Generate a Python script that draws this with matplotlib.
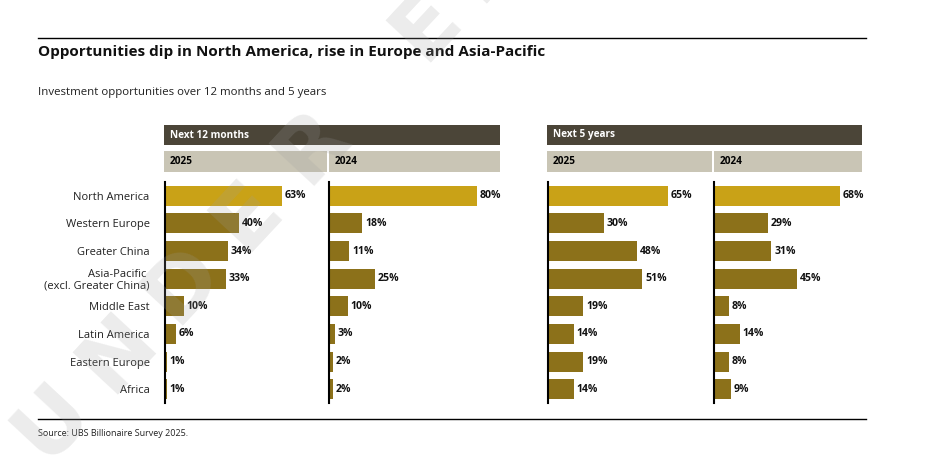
import matplotlib
matplotlib.use("Agg")
import matplotlib.pyplot as plt
from matplotlib.patches import Rectangle
from matplotlib.lines import Line2D

plt.rcParams['font.family'] = ['Open Sans', 'DejaVu Sans']

# ---------------- data ----------------
regions = ["North America", "Western Europe", "Greater China",
           "Asia-Pacific \n(excl. Greater China)", "Middle East",
           "Latin America", "Eastern Europe", "Africa"]
m12_2025 = [63, 40, 34, 33, 10, 6, 1, 1]
m12_2024 = [80, 18, 11, 25, 10, 3, 2, 2]
y5_2025 = [65, 30, 48, 51, 19, 14, 19, 14]
y5_2024 = [68, 29, 31, 45, 8, 14, 8, 9]
group_labels = ["Next 12 months", "Next 5 years"]
year_labels = ["2025", "2024"]
title = "Opportunities dip in North America, rise in Europe and Asia-Pacific"
subtitle = "Investment opportunities over 12 months and 5 years"
source = "Source: UBS Billionaire Survey 2025."

GOLD = "#C9A217"
DARK = "#8C711A"
HEAD = "#4B4538"
YEAR = "#C9C5B5"

W, H = 927, 473
fig = plt.figure(figsize=(W / 100, H / 100), dpi=100)


def fx(x):
    return x / W


def fy(y):
    return 1 - y / H


def rect(x0, y0, x1, y1, color):
    fig.patches.append(Rectangle((fx(x0), fy(y1)), fx(x1) - fx(x0), fy(y0) - fy(y1),
                                 transform=fig.transFigure, color=color, lw=0))


# rules
for yy in (38, 419):
    fig.add_artist(Line2D([fx(38), fx(866)], [fy(yy), fy(yy)], color="black", lw=1.0,
                          transform=fig.transFigure))

fig.text(fx(38), fy(52), title, fontsize=11, fontweight="bold", va="center", ha="left",
         color="#111111")
fig.text(fx(38), fy(93), subtitle, fontsize=8.25, va="center", ha="left", color="#222222")
fig.text(fx(38), fy(433), source, fontsize=6.5, va="center", ha="left", color="#222222")

# headers
groups = [(164, 500, [(164, 327), (329, 500)]), (547, 862, [(547, 712), (714, 862)])]
for (gx0, gx1, subs), glab in zip(groups, group_labels):
    rect(gx0, 125, gx1, 145, HEAD)
    fig.text(fx(gx0 + 6), fy(135), glab, fontsize=7.2, fontweight="bold", color="white",
             va="center", ha="left")
    for (sx0, sx1), ylab in zip(subs, year_labels):
        rect(sx0, 151, sx1, 172, YEAR)
        fig.text(fx(sx0 + 6), fy(162), ylab, fontsize=7.2, fontweight="bold", color="black",
                 va="center", ha="left")

# bar panels
SCALE = 1.85  # px per percent
panels = [(165, 327, m12_2025), (329, 500, m12_2024), (548, 712, y5_2025), (714, 862, y5_2024)]
Y0, Y1 = 182, 403
for i, (x0, x1, vals) in enumerate(panels):
    ax = fig.add_axes([fx(x0), fy(Y1), fx(x1) - fx(x0), fy(Y0) - fy(Y1)])
    ax.set_xlim(0, (x1 - x0) / SCALE)
    ax.set_ylim(len(vals) - 0.5, -0.5)
    colors = [GOLD] + [DARK] * (len(vals) - 1)
    pos = list(range(len(vals)))
    ax.barh(pos, vals, height=0.72, color=colors, lw=0, zorder=2)
    for p, v in zip(pos, vals):
        ax.annotate(f"{v}%", (v, p), xytext=(2, 0), textcoords="offset points",
                    va="center", ha="left", fontsize=7.6, fontweight="bold",
                    color="#111111", annotation_clip=False)
    for s in ("top", "right", "bottom"):
        ax.spines[s].set_visible(False)
    ax.spines["left"].set_linewidth(1.5)
    ax.spines["left"].set_zorder(3)
    ax.set_xticks([])
    ax.patch.set_alpha(0)
    if i == 0:
        ax.set_yticks(pos)
        ax.set_yticklabels(regions, fontsize=8, color="#222222", linespacing=1.0)
        ax.tick_params(axis="y", length=0, pad=11)
    else:
        ax.set_yticks([])

# watermark
wm = "UNDER EM"
sx, sy = 52, 422
dx, dy = 65, -69
k = 0.0
for ch in wm:
    if ch == " ":
        k += 0.75
        continue
    fig.text(fx(sx + k * dx), fy(sy + k * dy), ch, fontsize=62, fontweight="bold",
             family="DejaVu Sans", color="#a0a0a0", alpha=0.2, rotation=47,
             ha="center", va="center", rotation_mode="anchor", zorder=10)
    k += 1

fig.savefig("out.png", dpi=100)
